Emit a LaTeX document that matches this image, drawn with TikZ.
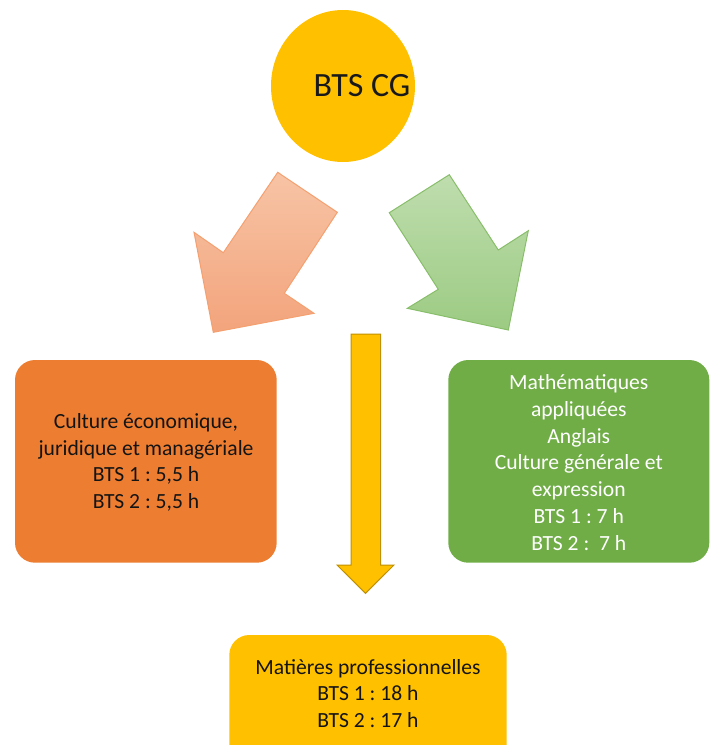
\documentclass[tikz,border=0pt]{standalone}
\usepackage{fontspec}
\setmainfont{Carlito}
\frenchspacing
\usetikzlibrary{shapes.geometric}
\definecolor{gold}{HTML}{FFC000}
\definecolor{golddark}{HTML}{BF9000}
\definecolor{orangebox}{HTML}{ED7D31}
\definecolor{greenbox}{HTML}{70AD47}
\definecolor{salmonlight}{HTML}{F7C4A5}
\definecolor{salmondark}{HTML}{F3A47C}
\definecolor{salmonedge}{HTML}{F4A070}
\definecolor{greenlight}{HTML}{BFDDAE}
\definecolor{greendark}{HTML}{9CCB83}
\definecolor{greenedge}{HTML}{88BE6A}
\tikzset{
  txt/.style={align=center, font=\fontsize{21.6}{26.7}\selectfont, inner sep=0pt},
  boxshape/.style={rounded corners=20pt},
}
\begin{document}
\begin{tikzpicture}[x=1pt,y=-1pt]
\useasboundingbox (0,0) rectangle (715,745);
\clip (0,0) rectangle (715,745);
% ellipse
\node[ellipse, fill=gold, minimum width=144pt, minimum height=152pt, inner sep=0pt] (top) at (343,86) {};
\node[font=\fontsize{34}{40}\selectfont, text=black!90, inner sep=0pt] (toptxt) at (362,86) {BTS CG};
% left arrow
\shade[top color=salmonlight, bottom color=salmondark, draw=salmonedge, line width=1pt, line join=miter]
  (277.7,172.3) -- (337.3,212.3) -- (284.3,293.3) -- (314,313.3) -- (213.3,332.3) -- (194,232.3) -- (223.3,252.7) -- cycle;
% right arrow
\shade[top color=greenlight, bottom color=greendark, draw=greenedge, line width=1pt, line join=miter]
  (389.3,212.7) -- (449.3,174.7) -- (498.3,250) -- (528.3,230.7) -- (508.3,330) -- (407.3,308.3) -- (438.3,289.3) -- cycle;
% down arrow
\draw[fill=gold, draw=golddark, line width=1pt, line join=miter]
  (351,334) -- (380.7,334) -- (380.7,565) -- (394,565) -- (365.5,593.3) -- (337,565) -- (351,565) -- cycle;
% left box
\fill[orangebox, boxshape] (15,360) rectangle (276.7,562.7);
\node[txt, text=black!92] (left) at (146,462.5) {Culture économique,\\juridique et managériale\\BTS 1 : 5,5 h\\BTS 2 : 5,5 h};
% right box
\fill[greenbox, boxshape] (448.3,360) rectangle (709.3,562.7);
\node[txt, text=white] (right) at (578.8,462.5) {Mathématiques\\appliquées\\Anglais\\Culture générale et\\expression\\BTS 1 : 7 h\\BTS 2 :\ \ 7 h};
% bottom box
\fill[gold, boxshape] (229.3,635) rectangle (506.7,765);
\node[txt, text=black!92] (bottom) at (368,693.3) {Matières professionnelles\\BTS 1 : 18 h\\BTS 2 : 17 h};
\end{tikzpicture}
\end{document}
